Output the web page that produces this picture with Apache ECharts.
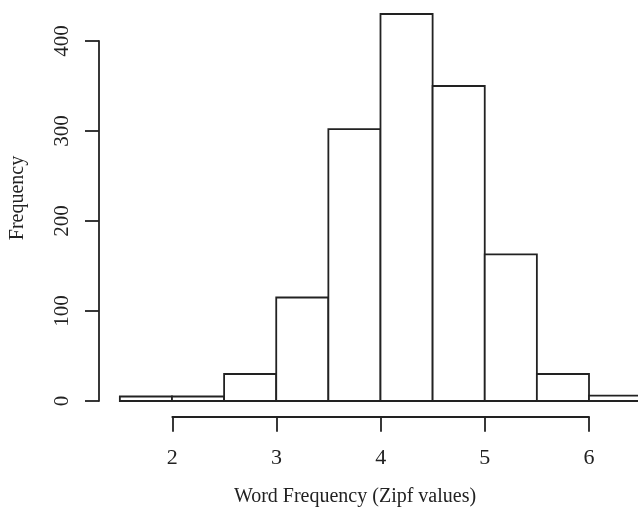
<!DOCTYPE html>
<html><head><meta charset="utf-8">
<script src="https://cdn.jsdelivr.net/npm/echarts@6/dist/echarts.min.js"></script>
<style>html,body{margin:0;padding:0;background:#fff}#c{width:638px;height:511px}</style>
</head><body><div id="c"></div>
<script>
const binStarts = [1.5, 2, 2.5, 3, 3.5, 4, 4.5, 5, 5.5, 6];
const binWidth = 0.5;
const counts = [5, 5, 30, 115, 302, 430, 350, 163, 30, 6];
const xTicks = [2, 3, 4, 5, 6];
const yTicks = [0, 100, 200, 300, 400];
const xTitle = 'Word Frequency (Zipf values)';
const yTitle = 'Frequency';

const font = 'Liberation Serif';
const ink = '#222';
const lw = 1.8;
const chart = echarts.init(document.getElementById('c'), null, {renderer: 'canvas'});
const data = binStarts.map((s, i) => [s, s + binWidth, counts[i]]);
const option = {
  animation: false,
  backgroundColor: '#fff',
  grid: [
    {left: 99, right: 0, top: 5, height: 411.3},
    {left: 99, width: 10, top: 41, height: 360},
    {left: 172.3, width: 416.7, top: 415.7, height: 1}
  ],
  xAxis: [
    {gridIndex: 0, type: 'value', min: 1.3, max: 6.47, show: false},
    {gridIndex: 1, type: 'value', min: 0, max: 1, show: false},
    {gridIndex: 2, type: 'value', min: xTicks[0], max: xTicks[xTicks.length - 1], interval: 1,
      axisLine: {show: true, lineStyle: {color: ink, width: lw}},
      axisTick: {show: true, length: 15, inside: false, lineStyle: {color: ink, width: lw}},
      axisLabel: {show: true, margin: 31, fontFamily: font, fontSize: 22, color: ink},
      splitLine: {show: false}}
  ],
  yAxis: [
    {gridIndex: 0, type: 'value', min: -17, max: 440, show: false},
    {gridIndex: 1, type: 'value', min: yTicks[0], max: yTicks[yTicks.length - 1], interval: 100,
      axisLine: {show: true, lineStyle: {color: ink, width: lw}},
      axisTick: {show: true, length: 14, inside: false, lineStyle: {color: ink, width: lw}},
      axisLabel: {show: true, margin: 26, rotate: 90, fontFamily: font, fontSize: 21, color: ink},
      splitLine: {show: false}},
    {gridIndex: 2, type: 'value', min: 0, max: 1, show: false}
  ],
  graphic: [
    {type: 'text', x: 355, y: 497, style: {text: xTitle, align: 'center', verticalAlign: 'middle', font: '20px "Liberation Serif"', fill: ink}},
    {type: 'text', x: 18, y: 198, rotation: Math.PI / 2, style: {text: yTitle, align: 'center', verticalAlign: 'middle', font: '20px "Liberation Serif"', fill: ink}}
  ],
  series: [{
    type: 'custom',
    clip: false,
    xAxisIndex: 0, yAxisIndex: 0,
    data: data,
    encode: {x: [0, 1], y: 2},
    renderItem: function (params, api) {
      const p0 = api.coord([api.value(0), api.value(2)]);
      const p1 = api.coord([api.value(1), 0]);
      return {type: 'rect', shape: {x: p0[0], y: p0[1], width: p1[0] - p0[0], height: p1[1] - p0[1]},
        style: {fill: '#fff', stroke: ink, lineWidth: lw}};
    }
  }]
};
chart.setOption(option);
</script></body></html>
